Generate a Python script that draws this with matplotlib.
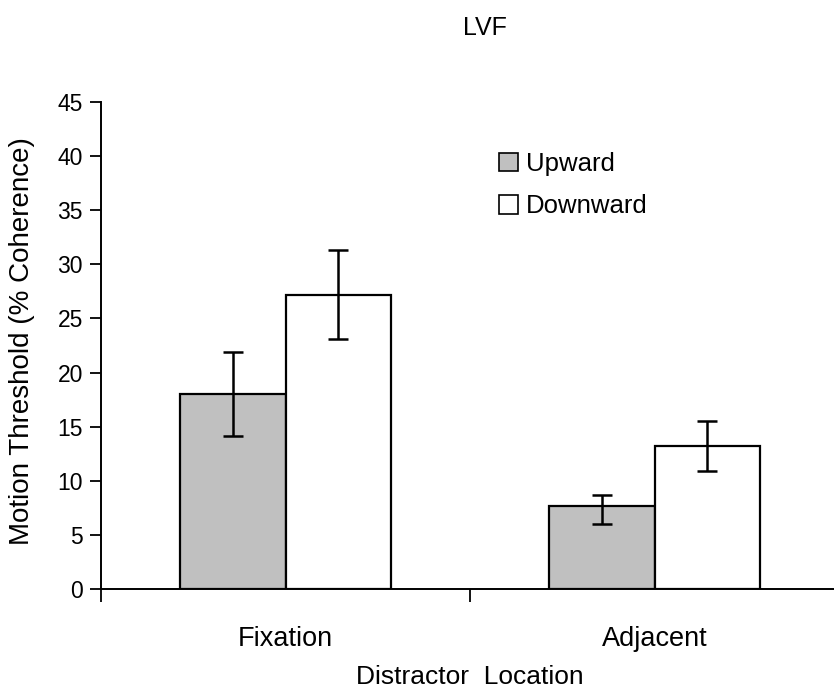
import matplotlib
matplotlib.use("Agg")
import matplotlib.pyplot as plt
import numpy as np

plt.rcParams['font.family'] = ['Liberation Sans', 'DejaVu Sans']

# Group labels and threshold data (% coherence)
locations = ["Fixation", "Adjacent"]
series = ["Upward", "Downward"]
upward = [18.0, 7.7]
downward = [27.2, 13.2]
upward_err_low = [3.9, 1.7]
upward_err_high = [3.9, 1.0]
downward_err_low = [4.1, 2.3]
downward_err_high = [4.1, 2.3]
yticks = [0, 5, 10, 15, 20, 25, 30, 35, 40, 45]

fig = plt.figure(figsize=(8.34, 6.93), dpi=100)
ax = fig.add_axes([101 / 834, 104 / 693, 738 / 834, 487 / 693])

x = np.arange(len(locations))
w = 0.285
lw = 1.6
ax.bar(x - w / 2, upward, w, color="#c0c0c0", edgecolor="black",
       linewidth=lw, label=series[0], zorder=2)
ax.bar(x + w / 2, downward, w, color="white", edgecolor="black",
       linewidth=lw, label=series[1], zorder=2)
ax.errorbar(x - w / 2, upward, yerr=[upward_err_low, upward_err_high],
            fmt="none", ecolor="black", elinewidth=1.8, capsize=7.5,
            capthick=1.8, zorder=3)
ax.errorbar(x + w / 2, downward, yerr=[downward_err_low, downward_err_high],
            fmt="none", ecolor="black", elinewidth=1.8, capsize=7.5,
            capthick=1.8, zorder=3)

ax.set_xlim(-0.5, 1.5)
ax.set_ylim(0, 45)
ax.set_yticks(yticks)
ax.set_yticklabels([str(t) for t in yticks], fontsize=16.5)

# Boundary ticks between groups; group names sit on unmarked minor ticks
ax.set_xticks([-0.5, 0.5, 1.5])
ax.set_xticklabels(["", "", ""])
ax.tick_params(axis="x", length=9, width=1.3, direction="out")
ax.tick_params(axis="y", length=8, width=1.3, direction="out", pad=5)
ax.set_xticks(x, minor=True)
ax.set_xticklabels(locations, minor=True, fontsize=19.5)
ax.tick_params(axis="x", which="minor", length=0, pad=27)

for s in ["top", "right"]:
    ax.spines[s].set_visible(False)
for s in ["left", "bottom"]:
    ax.spines[s].set_linewidth(1.4)

ax.set_ylabel("Motion Threshold (% Coherence)", fontsize=20)
ax.yaxis.set_label_coords(-0.090, 0.51)
ax.set_xlabel("Distractor  Location", fontsize=19)
ax.xaxis.set_label_coords(0.5, -0.157)
fig.text(485 / 834, 1 - 28 / 693, "LVF", fontsize=18, ha="center",
         va="center")

leg = ax.legend(loc="upper left", bbox_to_anchor=(398 / 738, 1 - 50 / 487),
                frameon=False, fontsize=18.5, handlelength=0.75,
                handleheight=0.75, handletextpad=0.3, labelspacing=0.72,
                borderpad=0, borderaxespad=0)
for h in leg.legend_handles:
    h.set_linewidth(1.2)

fig.savefig("out.png", dpi=100)
